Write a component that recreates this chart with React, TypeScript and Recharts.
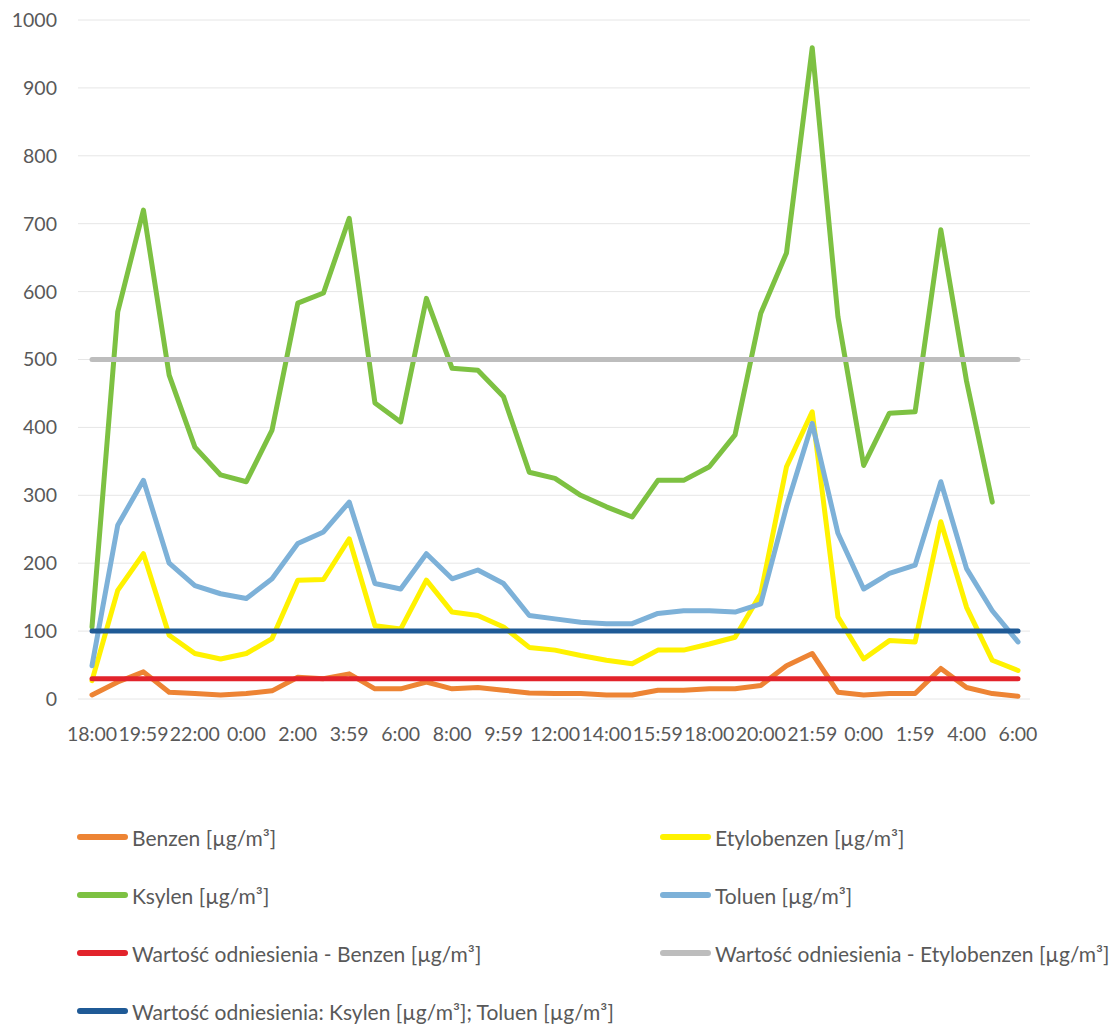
import React from 'react';
import { LineChart, Line, XAxis, YAxis, CartesianGrid, Legend } from 'recharts';

const times = [
  '18:00', '19:00', '19:59', '21:00', '22:00', '23:00', '0:00', '1:00', '2:00', '3:00',
  '3:59', '5:00', '6:00', '7:00', '8:00', '9:00', '9:59', '11:00', '12:00', '13:00',
  '14:00', '15:00', '15:59', '17:00', '18:00', '19:00', '20:00', '21:00', '21:59', '23:00',
  '0:00', '1:00', '1:59', '3:00', '4:00', '5:00', '6:00',
];

const benzen = [
  6, 25, 40, 10, 8, 6, 8, 12, 32, 30,
  37, 15, 15, 25, 15, 17, 13, 9, 8, 8,
  6, 6, 13, 13, 15, 15, 20, 49, 67, 10,
  6, 8, 8, 45, 17, 8, 4,
];

const etylobenzen = [
  27, 160, 214, 94, 67, 59, 67, 89, 175, 176,
  236, 108, 103, 175, 128, 123, 106, 76, 72, 64,
  57, 52, 72, 72, 81, 91, 155, 342, 423, 121,
  59, 86, 84, 261, 135, 57, 42,
];

const ksylen: (number | null)[] = [
  106, 570, 720, 477, 371, 330, 320, 396, 583, 598,
  708, 436, 408, 590, 487, 484, 445, 334, 325, 300,
  283, 268, 322, 322, 342, 389, 568, 657, 959, 563,
  344, 421, 423, 691, 468, 290, null,
];

const toluen = [
  49, 256, 322, 200, 167, 155, 148, 177, 229, 246,
  290, 170, 162, 214, 177, 190, 170, 123, 118, 113,
  111, 111, 126, 130, 130, 128, 140, 283, 406, 244,
  162, 185, 197, 320, 192, 130, 84,
];

const refBenzen = 30;
const refEtylobenzen = 500;
const refKsylenToluen = 100;

const yTicks = [0, 100, 200, 300, 400, 500, 600, 700, 800, 900, 1000];

const seriesDefs = [
  { key: 'benzen', name: 'Benzen [µg/m³]', color: '#ED8434' },
  { key: 'etylobenzen', name: 'Etylobenzen [µg/m³]', color: '#FFF200' },
  { key: 'ksylen', name: 'Ksylen [µg/m³]', color: '#7DC142' },
  { key: 'toluen', name: 'Toluen [µg/m³]', color: '#7DB1D8' },
  { key: 'refBenzen', name: 'Wartość odniesienia - Benzen [µg/m³]', color: '#E2232B' },
  { key: 'refEtylobenzen', name: 'Wartość odniesienia - Etylobenzen [µg/m³]', color: '#BDBDBD' },
  { key: 'refKsylenToluen', name: 'Wartość odniesienia: Ksylen [µg/m³]; Toluen [µg/m³]', color: '#1F5A96' },
];

const data = times.map((t, i) => ({
  time: t,
  benzen: benzen[i],
  etylobenzen: etylobenzen[i],
  ksylen: ksylen[i],
  toluen: toluen[i],
  refBenzen,
  refEtylobenzen,
  refKsylenToluen,
}));

const FONT = 'Lato, "Open Sans", sans-serif';
const TEXT = '#595959';

const LegendContent = (props: any) => {
  const payload: any[] = props.payload || [];
  const ordered = seriesDefs.map((d) => payload.find((p) => p.value === d.name) || { value: d.name, color: d.color });
  return (
    <div
      style={{
        display: 'grid',
        gridTemplateColumns: '660px 459px',
        gridAutoRows: '58px',
        width: 1119,
        fontFamily: FONT,
        fontSize: 21,
        color: TEXT,
      }}
    >
      {ordered.map((p, i) => (
        <div key={i} style={{ display: 'flex', alignItems: 'center', paddingLeft: i % 2 === 0 ? 77 : 0, whiteSpace: 'nowrap' }}>
          <span
            style={{
              display: 'inline-block',
              width: 51,
              height: 6,
              borderRadius: 3,
              background: p.color,
              marginRight: 4,
              flexShrink: 0,
            }}
          />
          <span>{p.value}</span>
        </div>
      ))}
    </div>
  );
};

export default function App() {
  return (
    <div style={{ position: 'absolute', left: 0, top: 0, width: 1119, height: 1025, background: '#fff' }}>
      <LineChart
        width={1119}
        height={1025}
        data={data}
        margin={{ top: 20, right: 89, bottom: 296, left: 0 }}
      >
        <CartesianGrid horizontal vertical={false} stroke="#e6e6e6" strokeWidth={1} />
        <XAxis
          dataKey="time"
          interval={1}
          axisLine={false}
          tickLine={false}
          tickMargin={22}
          padding={{ left: 14, right: 12 }}
          tick={{ fill: TEXT, fontSize: 19.5, fontFamily: FONT }}
          height={30}
        />
        <YAxis
          domain={[0, 1000]}
          ticks={yTicks}
          interval={0}
          axisLine={false}
          tickLine={false}
          width={78}
          tickMargin={15}
          tick={{ fill: TEXT, fontSize: 19.5, fontFamily: FONT }}
        />
        {seriesDefs.map((s) => (
          <Line
            key={s.key}
            type="linear"
            dataKey={s.key}
            name={s.name}
            stroke={s.color}
            strokeWidth={5}
            dot={false}
            activeDot={false}
            strokeLinejoin="round"
            strokeLinecap="round"
            isAnimationActive={false}
          />
        ))}
        <Legend
          layout="horizontal"
          verticalAlign="middle"
          align="center"
          wrapperStyle={{ left: 0, top: 808, width: 1119 }}
          content={<LegendContent />}
        />
      </LineChart>
    </div>
  );
}
